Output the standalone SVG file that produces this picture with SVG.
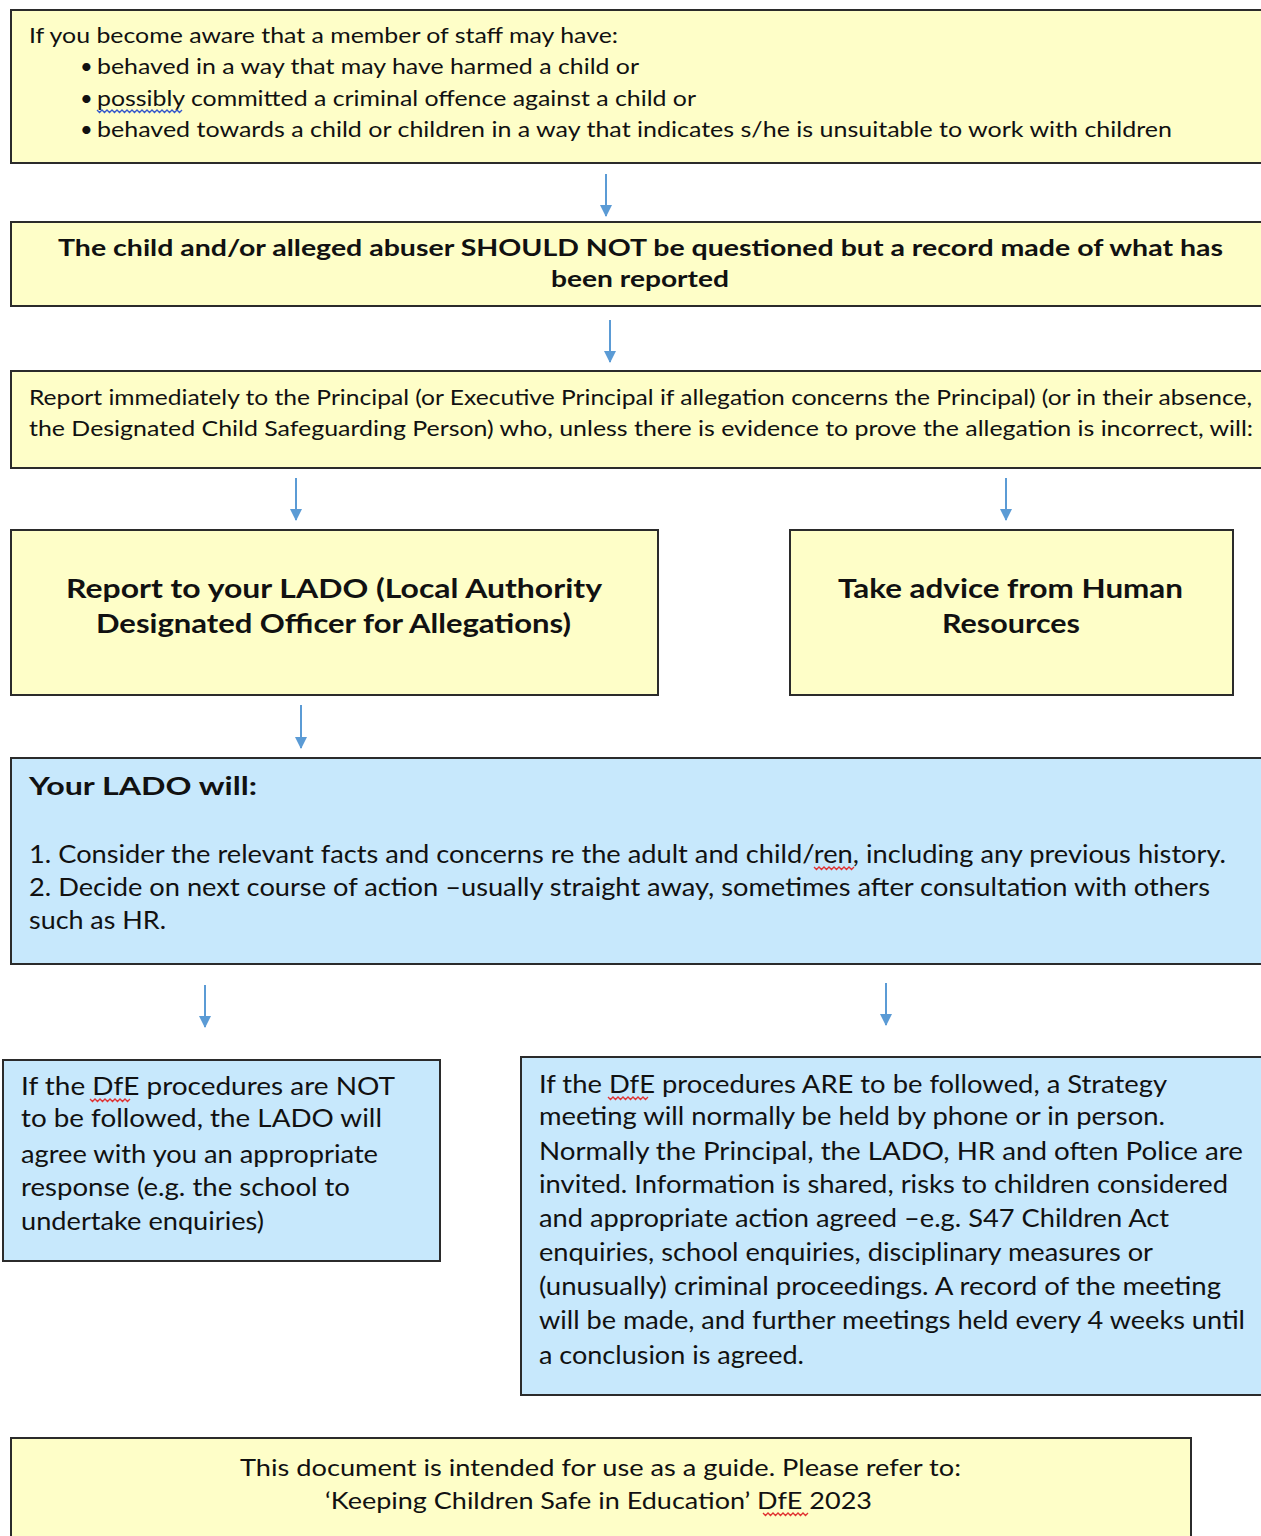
<svg xmlns="http://www.w3.org/2000/svg" width="1261" height="1536" viewBox="0 0 1261 1536">
<style>
.y{fill:#FEFEC8;stroke:#2b2b2b;stroke-width:2}
.b{fill:#C7E8FC;stroke:#2b2b2b;stroke-width:2}
text{font-family:"Lato","Open Sans","Liberation Sans",sans-serif;fill:#111}
.t1{font-size:22px}
.t2{font-size:22px;font-weight:bold}
.t4{font-size:27px;font-weight:bold}
.t6h{font-size:25px;font-weight:bold}
.t6{font-size:25px}
.t9{font-size:24px}
.conn{stroke:#5B9BD5;stroke-width:2;fill:none}
.sq{fill:none;stroke-width:1.3}
</style>
<defs>
<marker id="ah2" markerWidth="12" markerHeight="12" refX="11" refY="6" orient="auto" markerUnits="userSpaceOnUse" viewBox="0 0 12 12">
<path d="M0,0 L12,6 L0,12 Z" fill="#5B9BD5"/>
</marker>
</defs>
<rect width="1261" height="1536" fill="#fff"/>

<g id="connectors">
<line class="conn" x1="606" y1="174" x2="606" y2="216" marker-end="url(#ah2)"/>
<line class="conn" x1="610" y1="320" x2="610" y2="362" marker-end="url(#ah2)"/>
<line class="conn" x1="296" y1="478" x2="296" y2="520" marker-end="url(#ah2)"/>
<line class="conn" x1="1006" y1="478" x2="1006" y2="520" marker-end="url(#ah2)"/>
<line class="conn" x1="301" y1="705" x2="301" y2="748" marker-end="url(#ah2)"/>
<line class="conn" x1="205" y1="985" x2="205" y2="1027" marker-end="url(#ah2)"/>
<line class="conn" x1="886" y1="983" x2="886" y2="1025" marker-end="url(#ah2)"/>
</g>

<g id="node-aware">
<rect class="y" x="11" y="10" width="1262" height="153"/>
<text class="t1" x="29" y="43" textLength="589" lengthAdjust="spacingAndGlyphs">If you become aware that a member of staff may have:</text>
<text class="t1" x="80" y="74">•</text>
<text class="t1" x="97" y="74" textLength="542" lengthAdjust="spacingAndGlyphs">behaved in a way that may have harmed a child or</text>
<text class="t1" x="80" y="106">•</text>
<text class="t1" x="97" y="106" textLength="599" lengthAdjust="spacingAndGlyphs">possibly committed a criminal offence against a child or</text>
<path class="sq" stroke="#3355cc" d="M97,110 l2.5,2.5 l2.5,-2.5 l2.5,2.5 l2.5,-2.5 l2.5,2.5 l2.5,-2.5 l2.5,2.5 l2.5,-2.5 l2.5,2.5 l2.5,-2.5 l2.5,2.5 l2.5,-2.5 l2.5,2.5 l2.5,-2.5 l2.5,2.5 l2.5,-2.5 l2.5,2.5 l2.5,-2.5 l2.5,2.5 l2.5,-2.5 l2.5,2.5 l2.5,-2.5 l2.5,2.5 l2.5,-2.5 l2.5,2.5 l2.5,-2.5 l2.5,2.5 l2.5,-2.5 l2.5,2.5 l2.5,-2.5 l2.5,2.5 l2.5,-2.5 l2.5,2.5 l2.5,-2.5"/>
<text class="t1" x="80" y="137">•</text>
<text class="t1" x="97" y="137" textLength="1075" lengthAdjust="spacingAndGlyphs">behaved towards a child or children in a way that indicates s/he is unsuitable to work with children</text>
</g>

<g id="node-no-question">
<rect class="y" x="11" y="222" width="1262" height="84"/>
<text class="t2" x="58" y="256" textLength="1165" lengthAdjust="spacingAndGlyphs">The child and/or alleged abuser SHOULD NOT be questioned but a record made of what has</text>
<text class="t2" x="551" y="287" textLength="178" lengthAdjust="spacingAndGlyphs">been reported</text>
</g>

<g id="node-report-principal">
<rect class="y" x="11" y="371" width="1262" height="97"/>
<text class="t1" x="29" y="405" textLength="1223" lengthAdjust="spacingAndGlyphs">Report immediately to the Principal (or Executive Principal if allegation concerns the Principal) (or in their absence,</text>
<text class="t1" x="29" y="436" textLength="1224" lengthAdjust="spacingAndGlyphs">the Designated Child Safeguarding Person) who, unless there is evidence to prove the allegation is incorrect, will:</text>
</g>

<g id="node-report-lado">
<rect class="y" x="11" y="530" width="647" height="165"/>
<text class="t4" x="66" y="598" textLength="536" lengthAdjust="spacingAndGlyphs">Report to your LADO (Local Authority</text>
<text class="t4" x="96" y="633" textLength="475" lengthAdjust="spacingAndGlyphs">Designated Officer for Allegations)</text>
</g>

<g id="node-hr">
<rect class="y" x="790" y="530" width="443" height="165"/>
<text class="t4" x="838" y="598" textLength="345" lengthAdjust="spacingAndGlyphs">Take advice from Human</text>
<text class="t4" x="942" y="633" textLength="138" lengthAdjust="spacingAndGlyphs">Resources</text>
</g>

<g id="node-lado-will">
<rect class="b" x="11" y="758" width="1262" height="206"/>
<text class="t6h" x="29" y="795" textLength="228" lengthAdjust="spacingAndGlyphs">Your LADO will:</text>
<text class="t6" x="29" y="863" textLength="1197" lengthAdjust="spacingAndGlyphs">1. Consider the relevant facts and concerns re the adult and child/ren, including any previous history.</text>
<path class="sq" stroke="#e03030" d="M814,867 l2.5,2.5 l2.5,-2.5 l2.5,2.5 l2.5,-2.5 l2.5,2.5 l2.5,-2.5 l2.5,2.5 l2.5,-2.5 l2.5,2.5 l2.5,-2.5 l2.5,2.5 l2.5,-2.5 l2.5,2.5 l2.5,-2.5 l2.5,2.5 l2.5,-2.5"/>
<text class="t6" x="29" y="896" textLength="1181" lengthAdjust="spacingAndGlyphs">2. Decide on next course of action –usually straight away, sometimes after consultation with others</text>
<text class="t6" x="29" y="929" textLength="137" lengthAdjust="spacingAndGlyphs">such as HR.</text>
</g>

<g id="node-not-followed">
<rect class="b" x="3" y="1060" width="437" height="201"/>
<text class="t6" x="21" y="1095" textLength="374" lengthAdjust="spacingAndGlyphs">If the DfE procedures are NOT</text>
<path class="sq" stroke="#e03030" d="M90,1099 l2.5,2.5 l2.5,-2.5 l2.5,2.5 l2.5,-2.5 l2.5,2.5 l2.5,-2.5 l2.5,2.5 l2.5,-2.5 l2.5,2.5 l2.5,-2.5 l2.5,2.5 l2.5,-2.5 l2.5,2.5 l2.5,-2.5 l2.5,2.5 l2.5,-2.5"/>
<text class="t6" x="21" y="1127" textLength="361" lengthAdjust="spacingAndGlyphs">to be followed, the LADO will</text>
<text class="t6" x="21" y="1163" textLength="357" lengthAdjust="spacingAndGlyphs">agree with you an appropriate</text>
<text class="t6" x="21" y="1196" textLength="329" lengthAdjust="spacingAndGlyphs">response (e.g. the school to</text>
<text class="t6" x="21" y="1230" textLength="243" lengthAdjust="spacingAndGlyphs">undertake enquiries)</text>
</g>

<g id="node-followed">
<rect class="b" x="521" y="1057" width="752" height="338"/>
<text class="t6" x="539" y="1093" textLength="628" lengthAdjust="spacingAndGlyphs">If the DfE procedures ARE to be followed, a Strategy</text>
<path class="sq" stroke="#e03030" d="M608,1097 l2.5,2.5 l2.5,-2.5 l2.5,2.5 l2.5,-2.5 l2.5,2.5 l2.5,-2.5 l2.5,2.5 l2.5,-2.5 l2.5,2.5 l2.5,-2.5 l2.5,2.5 l2.5,-2.5 l2.5,2.5 l2.5,-2.5 l2.5,2.5 l2.5,-2.5"/>
<text class="t6" x="539" y="1125" textLength="626" lengthAdjust="spacingAndGlyphs">meeting will normally be held by phone or in person.</text>
<text class="t6" x="539" y="1160" textLength="704" lengthAdjust="spacingAndGlyphs">Normally the Principal, the LADO, HR and often Police are</text>
<text class="t6" x="539" y="1193" textLength="689" lengthAdjust="spacingAndGlyphs">invited. Information is shared, risks to children considered</text>
<text class="t6" x="539" y="1227" textLength="630" lengthAdjust="spacingAndGlyphs">and appropriate action agreed –e.g. S47 Children Act</text>
<text class="t6" x="539" y="1261" textLength="614" lengthAdjust="spacingAndGlyphs">enquiries, school enquiries, disciplinary measures or</text>
<text class="t6" x="539" y="1295" textLength="682" lengthAdjust="spacingAndGlyphs">(unusually) criminal proceedings. A record of the meeting</text>
<text class="t6" x="539" y="1329" textLength="706" lengthAdjust="spacingAndGlyphs">will be made, and further meetings held every 4 weeks until</text>
<text class="t6" x="539" y="1364" textLength="265" lengthAdjust="spacingAndGlyphs">a conclusion is agreed.</text>
</g>

<g id="node-guide">
<rect class="y" x="11" y="1438" width="1180" height="110"/>
<text class="t9" x="240" y="1476" textLength="721" lengthAdjust="spacingAndGlyphs">This document is intended for use as a guide. Please refer to:</text>
<text class="t9" x="325" y="1509" textLength="547" lengthAdjust="spacingAndGlyphs">‘Keeping Children Safe in Education’ DfE 2023</text>
<path class="sq" stroke="#e03030" d="M763,1513 l2.5,2.5 l2.5,-2.5 l2.5,2.5 l2.5,-2.5 l2.5,2.5 l2.5,-2.5 l2.5,2.5 l2.5,-2.5 l2.5,2.5 l2.5,-2.5 l2.5,2.5 l2.5,-2.5 l2.5,2.5 l2.5,-2.5 l2.5,2.5 l2.5,-2.5 l2.5,2.5 l2.5,-2.5"/>
</g>
</svg>
